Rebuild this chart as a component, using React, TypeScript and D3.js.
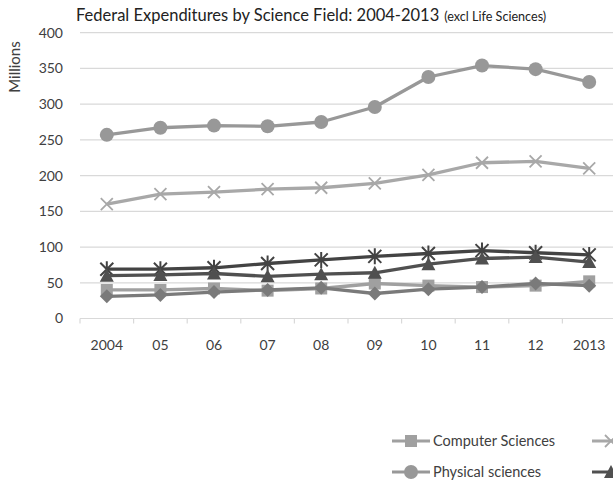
import React from "react";
import * as d3 from "d3";

const years = ["2004", "05", "06", "07", "08", "09", "10", "11", "12", "2013"];
const yTicks = [0, 50, 100, 150, 200, 250, 300, 350, 400];

const computerSciences = [40, 40, 42, 39, 42, 49, 46, 44, 46, 52];
const mathematicalSciences = [160, 174, 177, 181, 183, 189, 201, 218, 220, 210];
const physicalSciences = [257, 267, 270, 269, 275, 296, 338, 354, 349, 331];
const socialSciences = [69, 69, 71, 77, 82, 87, 91, 95, 92, 89];
const environmentalSciences = [60, 61, 63, 59, 62, 64, 76, 84, 86, 79];
const psychology = [31, 33, 37, 40, 43, 35, 41, 44, 49, 46];

type Marker = "square" | "x" | "circle" | "triangle" | "asterisk" | "diamond";

interface Series {
  name: string;
  values: number[];
  color: string;
  marker: Marker;
}

const series: Series[] = [
  { name: "Computer Sciences", values: computerSciences, color: "#a0a0a0", marker: "square" },
  { name: "Mathematical sciences", values: mathematicalSciences, color: "#a8a8a8", marker: "x" },
  { name: "Physical sciences", values: physicalSciences, color: "#989898", marker: "circle" },
  { name: "Social sciences", values: socialSciences, color: "#434343", marker: "asterisk" },
  { name: "Environmental sciences", values: environmentalSciences, color: "#505050", marker: "triangle" },
  { name: "Psychology", values: psychology, color: "#7a7a7a", marker: "diamond" },
];

// legend slots: [series index, column x, row y]
const legendSlots: [number, number, number][] = [
  [0, 392, 441],
  [1, 592, 441],
  [2, 392, 472],
  [4, 592, 472],
];

const FONT = "Lato, 'Open Sans', sans-serif";

function MarkerShape({ type, x, y, color }: { type: Marker; x: number; y: number; color: string }) {
  switch (type) {
    case "square":
      return <rect x={x - 6} y={y - 6} width={12} height={12} fill={color} />;
    case "circle":
      return <circle cx={x} cy={y} r={7} fill={color} />;
    case "diamond":
      return <path d={`M${x},${y - 7}L${x + 7},${y}L${x},${y + 7}L${x - 7},${y}Z`} fill={color} />;
    case "triangle":
      return <path d={`M${x},${y - 7}L${x + 7},${y + 6}L${x - 7},${y + 6}Z`} fill={color} />;
    case "x":
      return (
        <path
          d={`M${x - 6},${y - 6}L${x + 6},${y + 6}M${x - 6},${y + 6}L${x + 6},${y - 6}`}
          stroke={color}
          strokeWidth={1.8}
        />
      );
    case "asterisk":
      return (
        <path
          d={`M${x - 6.5},${y - 6.5}L${x + 6.5},${y + 6.5}M${x - 6.5},${y + 6.5}L${x + 6.5},${y - 6.5}M${x},${y - 8}L${x},${y + 8}`}
          stroke={color}
          strokeWidth={2}
        />
      );
  }
}

export default function App() {
  const width = 613;
  const height = 483;
  // the plot area runs slightly past the right edge of the canvas
  const plotLeft = 80;
  const plotRight = 616;

  const x = d3.scaleBand<string>().domain(years).range([plotLeft, plotRight]);
  const y = d3.scaleLinear().domain([0, 400]).range([318.5, 32.7]);
  const cx = (d: string) => (x(d) as number) + x.bandwidth() / 2;

  const line = d3
    .line<number>()
    .x((_, i) => cx(years[i]))
    .y((v) => y(v));

  return (
    <svg
      width={width}
      height={height}
      style={{ position: "absolute", left: 0, top: 0, background: "#fff" }}
      fontFamily={FONT}
    >
      <rect width={width} height={height} fill="#fff" />
      <text x={76} y={21} fontSize={16.5} fill="#222">
        Federal Expenditures by Science Field: 2004-2013
        <tspan fontSize={12.6} dx={5}>(excl Life Sciences)</tspan>
      </text>
      <text
        transform={`translate(20,67) rotate(-90)`}
        textAnchor="middle"
        fontSize={15}
        fill="#404040"
      >
        Millions
      </text>

      {yTicks.map((t) => (
        <g key={t}>
          <line x1={plotLeft} x2={width} y1={y(t)} y2={y(t)} stroke="#d9d9d9" strokeWidth={1.2} />
          <text x={63} y={y(t)} dy="0.35em" textAnchor="end" fontSize={14} fill="#404040">
            {t}
          </text>
        </g>
      ))}

      {years.map((yr) => (
        <g key={yr}>
          <line
            x1={x(yr) as number}
            x2={x(yr) as number}
            y1={y(0)}
            y2={y(0) + 5}
            stroke="#d9d9d9"
            strokeWidth={1.2}
          />
          <text x={cx(yr)} y={y(0) + 31} textAnchor="middle" fontSize={14} fill="#404040">
            {yr}
          </text>
        </g>
      ))}

      {series.map((s) => (
        <g key={s.name}>
          <path d={line(s.values) ?? ""} fill="none" stroke={s.color} strokeWidth={3.3} strokeLinejoin="round" />
          {s.values.map((v, i) => (
            <MarkerShape key={i} type={s.marker} x={cx(years[i])} y={y(v)} color={s.color} />
          ))}
        </g>
      ))}

      {legendSlots.map(([si, lx, ly]) => {
        const s = series[si];
        const labelX = lx + 41;
        return (
          <g key={s.name}>
            <line x1={lx} x2={lx + 38} y1={ly} y2={ly} stroke={s.color} strokeWidth={3} />
            <MarkerShape type={s.marker} x={lx + 19} y={ly} color={s.color} />
            {labelX < width && (
              <text x={labelX} y={ly} dy="0.35em" fontSize={14.5} fill="#404040">
                {s.name}
              </text>
            )}
          </g>
        );
      })}
    </svg>
  );
}
